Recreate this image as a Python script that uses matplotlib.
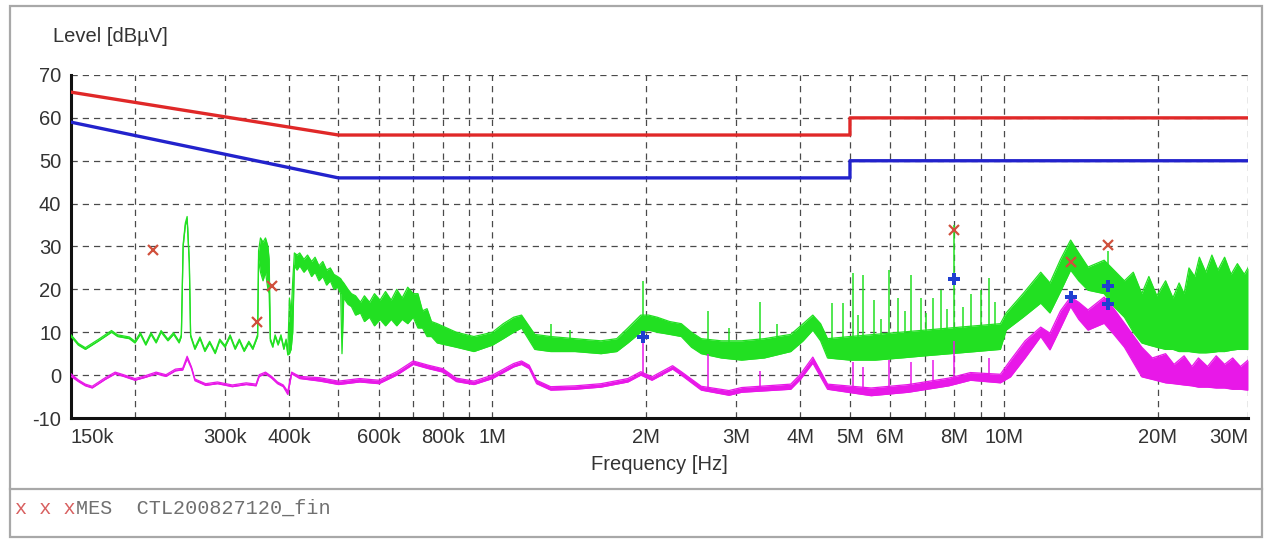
import matplotlib
matplotlib.use("Agg")
import matplotlib.pyplot as plt
from matplotlib.patches import Rectangle
from matplotlib.lines import Line2D
from matplotlib.ticker import FixedLocator, NullFormatter, FixedFormatter

# ---------------- data (frequency in MHz, level in dBuV) ----------------
qp_limit_mhz = [0.15, 0.5, 5.0, 5.0, 30.0]
qp_limit_db = [66, 56, 56, 60, 60]
av_limit_mhz = [0.15, 0.5, 5.0, 5.0, 30.0]
av_limit_db = [59, 46, 46, 50, 50]

green_mhz = [0.150, 0.155, 0.160, 0.170, 0.180, 0.185, 0.195, 0.200, 0.205, 0.210,
             0.215, 0.220, 0.225, 0.232, 0.238, 0.244, 0.2465, 0.2485, 0.251, 0.253,
             0.2555, 0.257, 0.262, 0.268, 0.274, 0.280, 0.287, 0.293, 0.300, 0.307,
             0.314, 0.320, 0.327, 0.334, 0.340, 0.345, 0.3475, 0.349, 0.352, 0.356,
             0.360, 0.364, 0.366, 0.368, 0.372, 0.376, 0.381, 0.386, 0.391, 0.395,
             0.398, 0.401, 0.404, 0.407,
             0.410, 0.415, 0.420, 0.428, 0.435, 0.443, 0.450, 0.458, 0.466, 0.474,
             0.482, 0.490, 0.498, 0.505, 0.508, 0.512, 0.522, 0.530, 0.540, 0.552,
             0.562, 0.575, 0.588, 0.603, 0.618, 0.634, 0.650, 0.666, 0.683, 0.700,
             0.715, 0.730, 0.745, 0.760, 0.780,
             0.850, 0.920, 1.000, 1.050, 1.100, 1.140, 1.210, 1.300, 1.450,
             1.630, 1.750, 1.840, 1.950, 2.020, 2.100, 2.220, 2.340, 2.450, 2.560,
             2.800, 3.070, 3.400, 3.830, 4.050, 4.230, 4.380, 4.520, 5.000, 5.600,
             6.290, 7.000, 7.860, 8.800, 9.840, 10.10, 10.90, 11.80, 12.30, 12.90,
             13.50, 14.00, 14.60, 15.70, 16.40, 17.20, 17.90, 18.60, 19.20, 19.90,
             20.70, 21.40, 22.00, 22.50, 23.00, 23.60, 24.10, 24.80, 25.50, 26.20,
             27.00, 27.80, 28.60, 29.50, 30.00]
green_lo = [9.0, 7.0, 6.0, 8.0, 10.0, 9.0, 8.5, 7.5, 9.5, 7.0,
            9.5, 7.5, 10.0, 8.0, 9.5, 7.5, 9.0, 30.0, 35.0, 36.2,
            26.0, 9.0, 6.0, 8.5, 5.5, 7.5, 5.0, 8.0, 6.5, 9.0,
            6.0, 8.0, 5.5, 7.5, 6.0, 8.0, 9.0, 27.0, 24.0, 22.0,
            24.0, 20.0, 19.0, 8.0, 6.5, 9.0, 7.0, 9.0, 6.0, 8.0,
            4.7, 5.0, 6.0, 10.0,
            25.5, 24.5, 25.5, 24.0, 25.0, 23.0, 24.0, 22.0, 23.0, 21.0,
            22.0, 20.0, 20.5, 19.0, 5.0, 18.0, 16.5, 16.0, 14.0, 14.5,
            12.5, 13.5, 11.5, 13.0, 11.5, 13.0, 11.5, 13.0, 12.0, 13.5,
            11.0, 11.0, 9.0, 9.0, 7.5,
            6.5, 5.5, 7.0, 8.5, 10.0, 11.0, 6.0, 5.5, 5.5,
            5.0, 5.5, 7.5, 10.0, 10.5, 10.0, 9.5, 9.0, 6.5, 5.0,
            4.0, 3.5, 4.0, 5.5, 8.0, 10.5, 8.0, 4.0, 3.5, 3.5,
            4.0, 4.5, 5.0, 5.5, 6.0, 10.5, 13.5, 16.8, 14.5, 19.5,
            24.5, 22.0, 19.8, 19.0, 16.0, 13.5, 10.0, 7.5, 7.0, 6.5,
            6.0, 6.0, 5.5, 5.5, 5.5, 5.3, 5.2, 5.2, 5.3, 5.5,
            5.5, 5.8, 6.0, 6.0, 6.0]
green_hi = [9.4, 7.4, 6.4, 8.4, 10.4, 9.4, 8.9, 7.9, 9.9, 7.4,
            9.9, 7.9, 10.4, 8.4, 9.9, 7.9, 9.4, 30.5, 35.5, 37.0,
            26.5, 9.4, 6.4, 8.9, 5.9, 7.9, 5.4, 8.4, 6.9, 9.4,
            6.4, 8.4, 5.9, 7.9, 6.4, 8.4, 9.5, 29.0, 32.0, 31.0,
            32.0, 30.0, 27.0, 8.5, 6.9, 9.4, 7.4, 9.4, 6.4, 8.4,
            5.2, 18.0, 14.0, 22.0,
            28.5, 28.0, 28.5, 27.0, 28.0, 26.5, 27.5, 25.5, 26.5, 24.5,
            25.0, 23.5, 23.0, 22.5, 22.0, 21.5, 20.0, 19.0, 18.5, 17.0,
            18.5, 17.0, 19.0, 17.5, 19.5, 17.5, 20.0, 18.0, 20.5, 19.0,
            19.0, 15.0, 15.5, 12.5, 12.0,
            10.0, 9.0, 10.0, 12.0, 13.5, 14.0, 9.5, 9.0, 8.5,
            8.0, 8.5, 11.0, 14.0, 14.0, 13.5, 12.5, 12.0, 10.0, 8.5,
            8.0, 8.0, 8.5, 9.5, 12.0, 14.0, 12.0, 8.5, 9.0, 9.5,
            10.0, 10.5, 11.0, 11.5, 12.0, 14.5, 19.0, 24.0, 21.5, 27.0,
            31.5, 28.5, 25.2, 26.8, 24.5, 22.0, 24.0, 19.0, 23.0, 18.5,
            22.0, 18.0, 21.5, 19.0, 25.0, 23.0, 27.5, 24.0, 28.0, 24.5,
            27.5, 23.5, 26.0, 23.5, 25.0]

green_spike_mhz = [1.30, 1.97, 2.64, 3.34, 4.62, 4.85, 5.07, 5.30, 5.56, 5.96,
                   6.21, 6.58, 6.89, 7.27, 7.54, 8.00, 8.61, 9.01, 9.35, 16.0,
                   5.18, 5.75, 6.40, 7.05, 7.75, 8.30, 9.60, 1.42, 2.90, 3.60]
green_spike_top = [12.0, 22.0, 15.0, 17.0, 16.8, 16.8, 23.8, 23.3, 17.5, 24.5,
                   18.0, 23.3, 18.0, 18.0, 19.8, 35.0, 19.0, 19.8, 22.6, 29.0,
                   14.0, 13.0, 15.0, 14.5, 15.5, 16.0, 17.0, 10.5, 11.0, 12.0]
green_spike_base = [7.0, 12.0, 6.0, 6.0, 6.0, 6.0, 6.0, 6.0, 6.0, 7.0,
                    7.0, 7.0, 7.0, 8.0, 8.0, 8.0, 8.0, 9.0, 9.0, 20.0,
                    6.0, 6.0, 7.0, 7.0, 8.0, 8.0, 9.0, 6.0, 5.0, 6.0]

magenta_mhz = [0.150, 0.155, 0.160, 0.165, 0.175, 0.183, 0.190, 0.200, 0.210, 0.220,
               0.230, 0.240, 0.248, 0.253, 0.258, 0.262, 0.275, 0.290, 0.310, 0.330,
               0.345, 0.350, 0.360, 0.370, 0.380, 0.390, 0.398, 0.405, 0.420, 0.460,
               0.500, 0.550, 0.600, 0.650, 0.700, 0.750, 0.800, 0.850, 0.920, 1.000,
               1.100, 1.140, 1.180, 1.220, 1.300, 1.450, 1.630, 1.840, 1.950, 2.050,
               2.250, 2.340, 2.560, 2.900, 3.070, 3.830, 4.000, 4.230, 4.520, 5.500,
               6.500, 7.800, 8.600, 9.840, 10.30, 11.00, 11.80, 12.30, 12.90, 13.50,
               14.00, 14.60, 15.70, 16.40, 17.20, 18.60, 19.50, 20.70, 21.50, 22.50,
               23.30, 24.00, 25.00, 26.00, 27.00, 28.00, 29.00, 30.00]
magenta_lo = [-0.3, -1.5, -2.5, -3.0, -1.0, 0.3, -0.3, -1.2, -0.5, 0.3,
              -0.3, 1.0, 1.2, 3.8, 1.5, -1.3, -2.4, -2.0, -2.7, -2.2,
              -2.5, -0.3, 0.3, -0.7, -2.0, -2.7, -4.5, 0.3, -0.8, -1.4,
              -2.2, -1.6, -2.0, 0.0, 2.5, 1.5, 0.7, -1.5, -2.2, -0.8,
              1.9, 2.5, 1.5, -2.0, -3.5, -3.3, -2.8, -1.6, 0.0, -1.2,
              1.4, 0.0, -3.5, -4.7, -4.0, -3.3, -1.0, 2.8, -3.3, -4.8,
              -4.0, -2.5, -1.2, -1.8, -0.4, 4.0, 9.0, 5.9, 11.0, 16.0,
              13.0, 10.5, 12.1, 9.5, 6.5, -0.4, -1.0, -1.8, -2.0, -2.3,
              -2.5, -2.8, -2.8, -3.0, -3.0, -3.3, -3.3, -3.5]
magenta_hi = [0.3, -1.1, -2.1, -2.6, -0.6, 0.7, 0.1, -0.8, -0.1, 0.7,
              0.1, 1.4, 1.6, 4.4, 1.9, -0.9, -2.0, -1.6, -2.3, -1.8,
              -2.1, 0.1, 0.7, -0.3, -1.6, -2.3, -3.8, 0.7, -0.3, -0.6,
              -1.4, -0.8, -1.2, 0.8, 3.3, 2.3, 1.5, -0.7, -1.4, 0.0,
              2.7, 3.3, 2.3, -1.2, -2.7, -2.5, -2.0, -0.8, 0.8, -0.4,
              2.2, 0.8, -2.6, -3.6, -2.9, -2.1, 0.2, 4.2, -2.1, -3.0,
              -2.2, -0.7, 0.6, 0.2, 3.5, 8.0, 11.2, 9.8, 15.0, 18.2,
              17.0, 15.2, 18.2, 15.5, 12.1, 6.5, 4.0, 5.0, 2.5, 4.5,
              2.0, 4.0, 2.0, 4.5, 2.5, 4.0, 2.0, 3.5]

magenta_spike_mhz = [1.97, 2.64, 3.34, 5.07, 5.30, 5.96, 6.58, 7.27, 8.00, 9.35]
magenta_spike_top = [9.8, 5.0, 1.0, 3.0, 2.0, 3.5, 3.0, 3.5, 8.0, 4.0]
magenta_spike_base = [0.0, -3.0, -3.5, -4.0, -4.0, -3.5, -3.0, -2.5, -2.0, -1.0]

qp_mark_mhz = [0.217, 0.347, 0.371, 7.98, 13.5, 16.0]
qp_mark_db = [29.2, 12.4, 20.8, 33.8, 26.4, 30.3]
av_mark_mhz = [1.97, 7.98, 13.5, 16.0, 16.0]
av_mark_db = [8.9, 22.4, 18.2, 20.8, 16.6]

tick_mhz = [0.15, 0.3, 0.4, 0.6, 0.8, 1, 2, 3, 4, 5, 6, 8, 10, 20, 30]
tick_labels = ["150k", "300k", "400k", "600k", "800k", "1M", "2M", "3M", "4M",
               "5M", "6M", "8M", "10M", "20M", "30M"]
minor_grid_mhz = [0.2, 0.5, 0.7, 0.9, 7, 9]
y_ticks = [-10, 0, 10, 20, 30, 40, 50, 60, 70]

footer_marks = "x x x"
footer_text = "MES  CTL200827120_fin"

# ---------------- figure ----------------
W, H = 1269, 540
plt.rcParams['font.family'] = ['Liberation Sans', 'DejaVu Sans']
plt.rcParams['axes.unicode_minus'] = False
fig = plt.figure(figsize=(W / 100, H / 100), dpi=100)
fig.patch.set_facecolor('white')

def fx(px):
    return px / W

def fy(py):
    return 1 - py / H

# outer panel frame and footer separator
fig.patches.append(Rectangle((fx(10), fy(537)), fx(1262) - fx(10), fy(6) - fy(537),
                             transform=fig.transFigure, fill=False,
                             edgecolor='#a8a8a8', lw=1.6))
fig.lines.append(Line2D([fx(10), fx(1262)], [fy(489), fy(489)],
                        transform=fig.transFigure, color='#a8a8a8', lw=1.6))

ax = fig.add_axes([fx(71), fy(418), fx(1248) - fx(71), fy(75) - fy(418)])
ax.set_xscale('log')
ax.set_xlim(0.15, 30)
ax.set_ylim(-10, 70)

# grid
ax.xaxis.set_major_locator(FixedLocator(tick_mhz))
ax.xaxis.set_major_formatter(FixedFormatter(tick_labels))
ax.xaxis.set_minor_locator(FixedLocator(minor_grid_mhz))
ax.xaxis.set_minor_formatter(NullFormatter())
ax.set_yticks(y_ticks)
ax.grid(True, which='both', color='#4a4a4a', lw=0.9, linestyle=(0, (5, 4)))
ax.set_axisbelow(True)
ax.tick_params(which='both', length=0)
ax.tick_params(axis='x', pad=7, labelsize=14.5, labelcolor='#333333')
ax.tick_params(axis='y', pad=7, labelsize=14.5, labelcolor='#333333')
xl = ax.get_xticklabels()
xl[0].set_horizontalalignment('left')
xl[-1].set_horizontalalignment('right')

for s in ['top', 'right']:
    ax.spines[s].set_visible(False)
for s in ['left', 'bottom']:
    ax.spines[s].set_color('#111111')
    ax.spines[s].set_linewidth(2.2)

# measured traces
g_col = '#22e022'
m_col = '#e818e8'
ax.fill_between(green_mhz, green_lo, green_hi, color=g_col, lw=0, zorder=3)
ax.plot(green_mhz, green_lo, color=g_col, lw=0.9, zorder=3)
ax.plot(green_mhz, green_hi, color=g_col, lw=0.9, zorder=3)
ax.vlines(green_spike_mhz, green_spike_base, green_spike_top, color=g_col, lw=1.1, zorder=3)

ax.fill_between(magenta_mhz, magenta_lo, magenta_hi, color=m_col, lw=0, zorder=4)
ax.plot(magenta_mhz, magenta_lo, color=m_col, lw=0.9, zorder=4)
ax.plot(magenta_mhz, magenta_hi, color=m_col, lw=0.9, zorder=4)
ax.vlines(magenta_spike_mhz, magenta_spike_base, magenta_spike_top, color=m_col, lw=1.1, zorder=4)

# limit lines
ax.plot(qp_limit_mhz, qp_limit_db, color='#e02828', lw=2.4, zorder=5)
ax.plot(av_limit_mhz, av_limit_db, color='#2222cc', lw=2.4, zorder=5)

# final measurement markers
ax.plot(qp_mark_mhz, qp_mark_db, linestyle='none', marker='x', color='#d0503c',
        markersize=6.5, mew=1.6, zorder=6)
ax.plot(av_mark_mhz, av_mark_db, linestyle='none', marker='P', color='#1f3fd0',
        markersize=8, mew=0, zorder=6)

# labels
fig.text(fx(53), fy(37), "Level [dB\u00b5V]", ha='left', va='center',
         fontsize=14.5, color='#333333')
fig.text(fx(659.5), fy(464), "Frequency [Hz]", ha='center', va='center',
         fontsize=14.5, color='#333333')

# footer legend line
fig.text(fx(15), fy(508), footer_marks, ha='left', va='center',
         fontsize=14.5, color='#d86060', family='Liberation Mono')
fig.text(fx(15) + 5 * 12.1 / W, fy(508), footer_text, ha='left', va='center',
         fontsize=14.5, color='#707070', family='Liberation Mono')

fig.savefig('out.png', dpi=100, facecolor='white')
